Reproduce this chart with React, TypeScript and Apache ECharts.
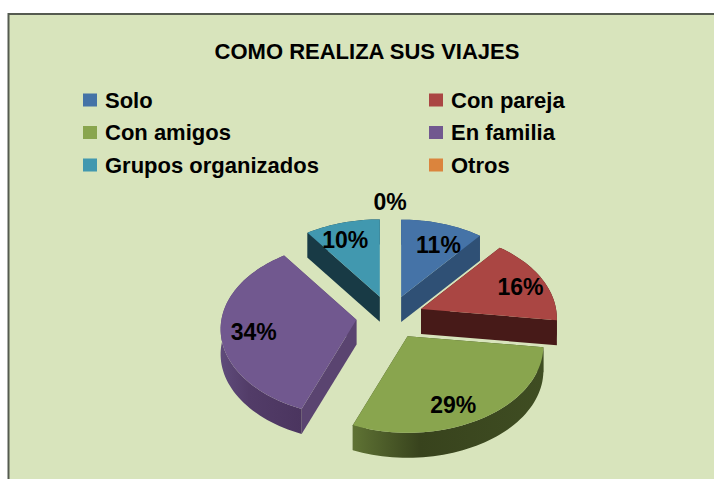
import React, { useEffect, useRef } from "react";
import * as echarts from "echarts";

const titleText = "COMO REALIZA SUS VIAJES";
const categories = ["Solo", "Con pareja", "Con amigos", "En familia", "Grupos organizados", "Otros"];
const shares = [11, 16, 29, 34, 10, 0];

const topColors = ["#4573A7", "#AA4643", "#89A54E", "#71588F", "#4198AF", "#DB843D"];
const wallColors = ["#2F5075", "#471A18", "#3A471F", "#5A4470", "#183A45", "#8A5226"];
const rimLeft = ["#2F5075", "#471A18", "#5F7334", "#5F4B7A", "#183A45", "#8A5226"];
const rimMid = ["#2F5075", "#471A18", "#38431D", "#523C68", "#183A45", "#8A5226"];
const rimRight = ["#2F5075", "#471A18", "#3F4D22", "#4B355F", "#183A45", "#8A5226"];
const labelRadii = [0.71, 0.8, 0.8, 0.76, 0.76, 1.25];
const labelTurns = [5, 3, 7.6, -1.8, -3.5, 0];

const FONT = '"Liberation Sans", Arial, sans-serif';
const CX = 390, CY = 317, RX = 135, RY = 87, PERSP = 0.11, EXPLODE = 0.25, DEPTH = 25;

const project = (deg: number, r: number) => {
  const a = (deg * Math.PI) / 180;
  const u = r * Math.sin(a);
  const v = -r * Math.cos(a);
  const s = 1 + PERSP * v;
  return [u * RX * s, v * RY * s];
};

export default function App() {
  const ref = useRef<HTMLDivElement>(null);
  useEffect(() => {
    const chart = echarts.init(ref.current!, undefined, { renderer: "svg" });
    const total = shares.reduce((a, b) => a + b, 0);
    const series = categories.map((name, i) => {
      const before = shares.slice(0, i).reduce((a, b) => a + b, 0);
      return {
        type: "custom",
        name,
        coordinateSystem: "none",
        itemStyle: { color: topColors[i] },
        data: [shares[i]],
        silent: true,
        renderItem: (_p: any, api: any) => {
          const share = api.value(0);
          const start = (before / total) * 360;
          const end = ((before + share) / total) * 360;
          const mid = (start + end) / 2;
          const off = project(mid, EXPLODE);
          const ax = CX + off[0], ay = CY + off[1];
          const arc: number[][] = [];
          const steps = Math.max(1, Math.ceil((end - start) / 2));
          for (let k = 0; k <= steps; k++) {
            const p = project(start + ((end - start) * k) / steps, 1);
            arc.push([ax + p[0], ay + p[1]]);
          }
          const down = (p: number[]) => [p[0], p[1] + DEPTH];
          const children: any[] = [];
          if (share > 0) {
            const apex = [ax, ay];
            const first = arc[0], last = arc[arc.length - 1];
            children.push({ type: "polygon", shape: { points: [apex, first, down(first), down(apex)] }, style: { fill: wallColors[i] } });
            children.push({ type: "polygon", shape: { points: [apex, last, down(last), down(apex)] }, style: { fill: wallColors[i] } });
            children.push({
              type: "polygon",
              shape: { points: [...arc, ...arc.slice().reverse().map(down)] },
              style: {
                fill: {
                  type: "linear", x: 0, y: 0, x2: 1, y2: 0,
                  colorStops: [
                    { offset: 0, color: rimLeft[i] },
                    { offset: 0.35, color: rimMid[i] },
                    { offset: 1, color: rimRight[i] },
                  ],
                },
              },
            });
            children.push({ type: "polygon", shape: { points: [apex, ...arc] }, style: { fill: topColors[i] } });
          }
          const lp = project(mid + labelTurns[i], labelRadii[i]);
          children.push({
            type: "text",
            z2: 100,
            style: {
              text: `${Math.round((share / total) * 100)}%`,
              x: ax + lp[0],
              y: ay + lp[1] + (i === 3 ? 2 : 0),
              align: "center",
              verticalAlign: "middle",
              fontFamily: FONT,
              fontWeight: "bold",
              fontSize: 23,
              fill: "#000",
            },
          });
          return { type: "group", children };
        },
      };
    });
    const legendBase = {
      orient: "vertical",
      icon: "rect",
      itemWidth: 14,
      itemHeight: 13,
      itemGap: 10.5,
      selectedMode: false,
      padding: 0,
      textStyle: { fontFamily: FONT, fontWeight: "bold", fontSize: 22, color: "#000", padding: [0, 0, 0, 3], lineHeight: 18 },
    };
    chart.setOption({
      animation: false,
      backgroundColor: "#FFFFFF",
      title: {
        text: titleText,
        left: 367,
        top: 40,
        textAlign: "center",
        padding: 0,
        textStyle: { fontFamily: FONT, fontWeight: "bold", fontSize: 22, color: "#000" },
      },
      legend: [
        { ...legendBase, left: 83, top: 89, data: [categories[0], categories[2], categories[4]] },
        { ...legendBase, left: 429, top: 89, data: [categories[1], categories[3], categories[5]] },
      ],
      graphic: [
        {
          type: "rect",
          silent: true,
          z: -10,
          shape: { x: 8.5, y: 14, width: 720, height: 480 },
          style: { fill: "#D8E4BC", stroke: "#555B50", lineWidth: 2 },
        },
      ],
      series,
    });
    return () => chart.dispose();
  }, []);
  return <div ref={ref} style={{ position: "fixed", left: 0, top: 0, width: 714, height: 479 }} />;
}
